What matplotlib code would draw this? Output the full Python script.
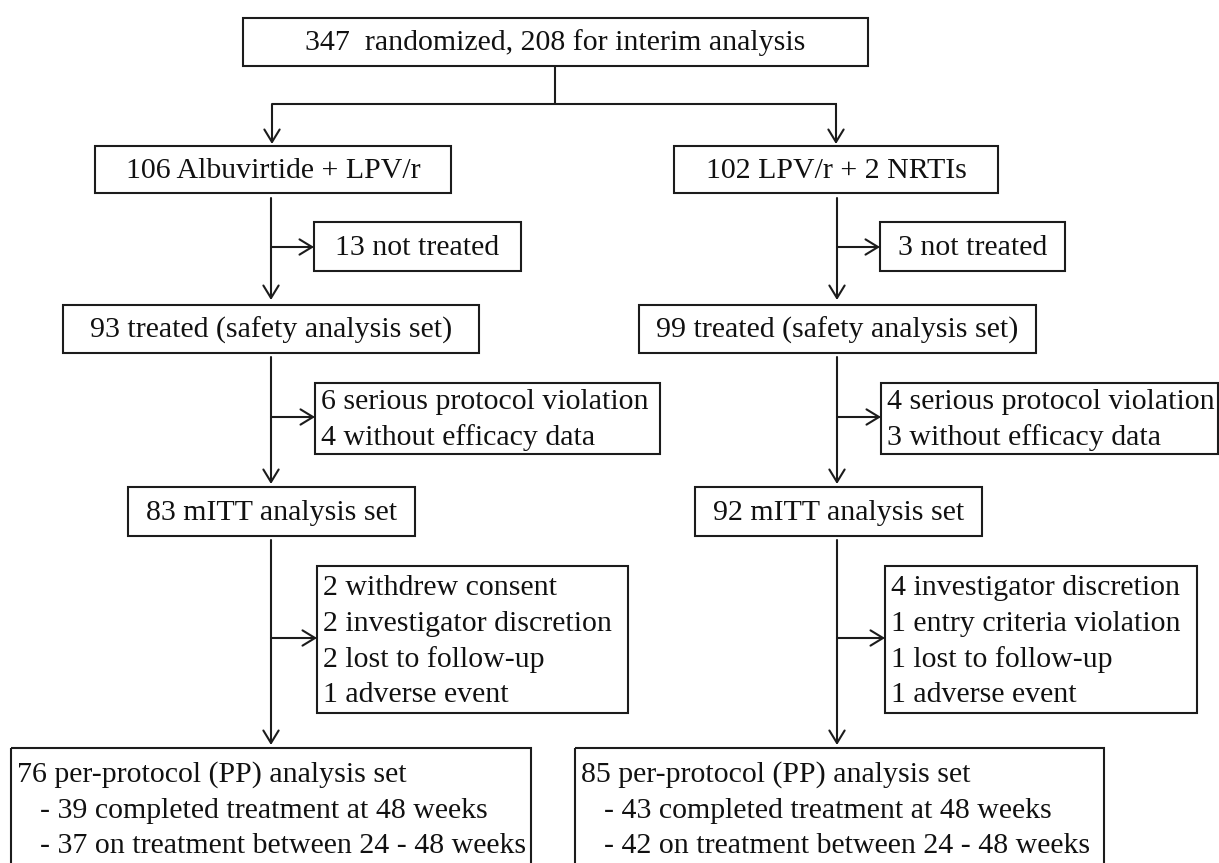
import matplotlib
matplotlib.use('Agg')
import matplotlib.pyplot as plt
from matplotlib.patches import Rectangle, FancyArrowPatch

# box texts
top_label = '347  randomized, 208 for interim analysis'
arm_labels = ['106 Albuvirtide + LPV/r', '102 LPV/r + 2 NRTIs']
not_treated = ['13 not treated', '3 not treated']
treated = ['93 treated (safety analysis set)', '99 treated (safety analysis set)']
excluded = [['6 serious protocol violation', '4 without efficacy data'],
            ['4 serious protocol violation', '3 without efficacy data']]
mitt = ['83 mITT analysis set', '92 mITT analysis set']
dropped = [['2 withdrew consent', '2 investigator discretion',
            '2 lost to follow-up', '1 adverse event'],
           ['4 investigator discretion', '1 entry criteria violation',
            '1 lost to follow-up', '1 adverse event']]
pp_head = ['76 per-protocol (PP) analysis set', '85 per-protocol (PP) analysis set']
pp_sub = [['- 39 completed treatment at 48 weeks',
           '- 37 on treatment between 24 - 48 weeks'],
          ['- 43 completed treatment at 48 weeks',
           '- 42 on treatment between 24 - 48 weeks']]

W, H = 1219, 863
fig = plt.figure(figsize=(W / 100, H / 100), dpi=100)
ax = fig.add_axes([0, 0, 1, 1])
ax.set_xlim(0, W)
ax.set_ylim(H, 0)
ax.axis('off')

LC = '#1c1c1c'
LW = 1.5
FONT = 'Liberation Serif'
FS = 21.5
LINE = 35.7


def box(x0, y0, x1, y1):
    ax.add_patch(Rectangle((x0, y0), x1 - x0, y1 - y0, fill=False,
                           ec=LC, lw=LW, clip_on=True))


def line(xs, ys):
    ax.plot(xs, ys, color=LC, lw=LW, solid_capstyle='butt')


def arrow(p0, p1):
    ax.add_patch(FancyArrowPatch(p0, p1, arrowstyle='->,head_length=9,head_width=5.5',
                                 mutation_scale=1, color=LC, lw=LW,
                                 shrinkA=0, shrinkB=0))


def label(x, y, t, ha='left'):
    ax.text(x, y, t, ha=ha, va='center', fontsize=FS, family=FONT, color='#111')


def centered(text, x0, y0, x1, y1):
    box(x0, y0, x1, y1)
    label((x0 + x1) / 2, (y0 + y1) / 2 + 1, text, ha='center')


def listed(lines, x0, y0, x1, y1, first):
    box(x0, y0, x1, y1)
    for i, t in enumerate(lines):
        label(x0 + 6, first + i * LINE, t)


# top
centered(top_label, 243, 18, 868, 66)
line([555, 555], [66, 104])
line([272, 837], [104, 104])

cols = [271, 837]
arm_box = [(95, 451), (674, 998)]
nt_box = [(314, 521), (880, 1065)]
tr_box = [(63, 479), (639, 1036)]
ex_box = [(315, 660), (881, 1218)]
mitt_box = [(128, 415), (695, 982)]
dr_box = [(317, 628), (885, 1197)]
pp_box = [(11, 531), (575, 1104)]

for k in range(2):
    cx = cols[k]
    arrow((cx + (1 if k == 0 else -1), 104), (cx + (1 if k == 0 else -1), 144))
    centered(arm_labels[k], arm_box[k][0], 146, arm_box[k][1], 193)
    arrow((cx, 198), (cx, 300))
    arrow((cx, 247), (nt_box[k][0], 247))
    centered(not_treated[k], nt_box[k][0], 222, nt_box[k][1], 271)
    centered(treated[k], tr_box[k][0], 305, tr_box[k][1], 353)
    arrow((cx, 357), (cx, 484))
    arrow((cx, 417), (ex_box[k][0], 417))
    listed(excluded[k], ex_box[k][0], 383, ex_box[k][1], 454, 402)
    centered(mitt[k], mitt_box[k][0], 487, mitt_box[k][1], 536)
    arrow((cx, 540), (cx, 745))
    arrow((cx, 638), (dr_box[k][0], 638))
    listed(dropped[k], dr_box[k][0], 566, dr_box[k][1], 713, 588)
    # per-protocol box, extends past the bottom edge
    box(pp_box[k][0], 748, pp_box[k][1], 880)
    label(pp_box[k][0] + 6, 775, pp_head[k])
    for i, t in enumerate(pp_sub[k]):
        label(pp_box[k][0] + 29, 775 + (i + 1) * LINE, t)

fig.savefig('out.png', dpi=100, facecolor='white')
